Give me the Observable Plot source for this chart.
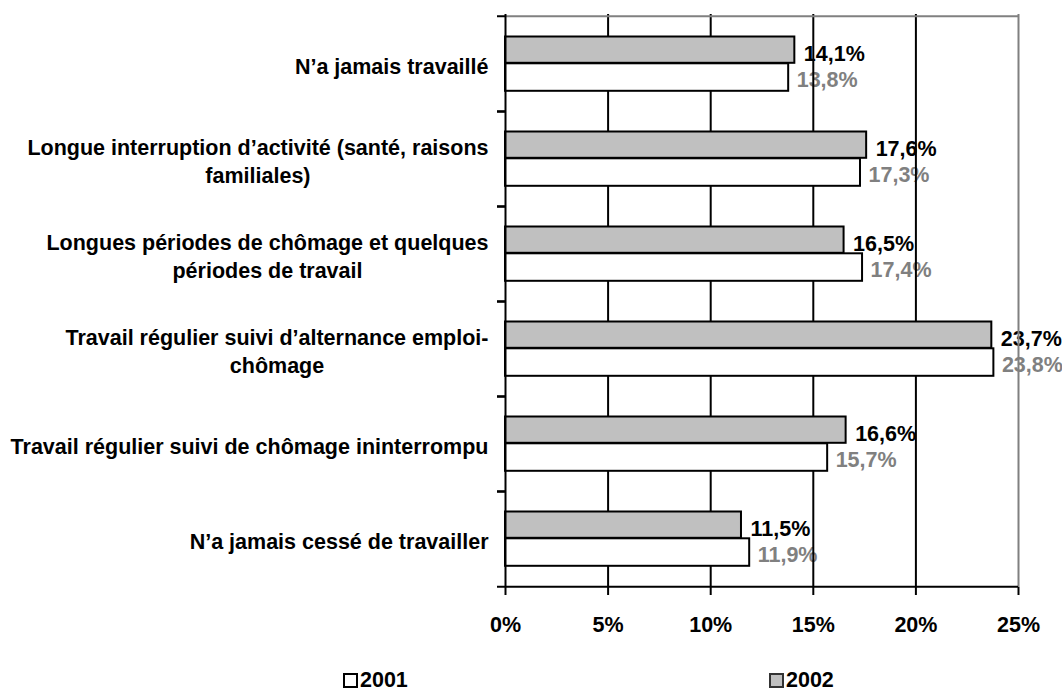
<!DOCTYPE html>
<html>
<head>
<meta charset="utf-8">
<script src="https://cdn.jsdelivr.net/npm/d3@7"></script>
<script src="https://cdn.jsdelivr.net/npm/@observablehq/plot@0.6"></script>
<style>
  html, body { margin: 0; padding: 0; background: #ffffff; }
  #chart { width: 1062px; font-family: "Liberation Sans", Arial, sans-serif; }
  .legend { position: relative; width: 1062px; height: 35px; font-family: "Liberation Sans", Arial, sans-serif; font-weight: bold; font-size: 21.5px; color: #000; }
  .legend .item { position: absolute; top: 9px; display: flex; align-items: center; line-height: 22px; }
  .legend .sw { display: inline-block; width: 11px; height: 11px; border: 2px solid #000; margin-right: 2px; box-sizing: content-box; }
</style>
</head>
<body>
<div id="chart"></div>
<div class="legend" id="legend"></div>
<script>
// ---- data ----
const categories = [
  "N\u2019a jamais travaillé",
  "Longue interruption d\u2019activité (santé, raisons\nfamiliales)",
  "Longues périodes de chômage et quelques\npériodes de travail",
  "Travail régulier suivi d\u2019alternance emploi-\nchômage",
  "Travail régulier suivi de chômage ininterrompu",
  "N\u2019a jamais cessé de travailler"
];
const values2002 = [14.1, 17.6, 16.5, 23.7, 16.6, 11.5];
const values2001 = [13.8, 17.3, 17.4, 23.8, 15.7, 11.9];
const xTicks = [0, 5, 10, 15, 20, 25];
const seriesNames = ["2001", "2002"];

// ---- build ----
const rows = categories.map((c, i) => ({cat: c, v2001: values2001[i], v2002: values2002[i]}));
const fmt = v => v.toFixed(1).replace(".", ",") + "%";

const W = 1062, H = 660, mT = 14, mB = 73, mL = 505, mR = 44;
const bw = (H - mT - mB) / categories.length;
const font = {fontSize: 21.5, fontWeight: "bold"};

const chart = Plot.plot({
  width: W, height: H,
  marginTop: mT, marginBottom: mB, marginLeft: mL, marginRight: mR,
  style: {fontFamily: "'Liberation Sans', Arial, sans-serif", background: "#ffffff", overflow: "visible"},
  x: {domain: [0, 25], axis: null},
  y: {domain: categories, padding: 0, axis: null},
  marks: [
    // value labels
    Plot.text(rows, {x: "v2002", y: "cat", text: d => fmt(d.v2002), textAnchor: "start", dx: 9, dy: -9.5, fill: "#000000", ...font}),
    Plot.text(rows, {x: "v2001", y: "cat", text: d => fmt(d.v2001), textAnchor: "start", dx: 8, dy: 16.5, fill: "#808080", ...font}),
    // gridlines
    Plot.ruleX(xTicks.filter(t => t > 0 && t < 25), {stroke: "#000000", strokeWidth: 2}),
    Plot.ruleX([25], {stroke: "#808080", strokeWidth: 2}),
    Plot.ruleY([categories[0]], {dy: -bw / 2, stroke: "#808080", strokeWidth: 2}),
    // bars
    Plot.barX(rows, {x: "v2002", y: "cat", fill: "#c0c0c0", stroke: "#000000", strokeWidth: 2, insetTop: 20.5, insetBottom: bw - 47.3}),
    Plot.barX(rows, {x: "v2001", y: "cat", fill: "#ffffff", stroke: "#000000", strokeWidth: 2, insetTop: 47.3, insetBottom: bw - 75.3}),
    // axes lines
    Plot.ruleX([0], {stroke: "#000000", strokeWidth: 2}),
    Plot.ruleY([categories[categories.length - 1]], {dy: bw / 2, stroke: "#000000", strokeWidth: 2}),
    Plot.axisY({tickSize: 8, tickFormat: () => "", label: null, dy: -bw / 2, stroke: "#000000", strokeWidth: 2}),
    Plot.axisY({tickSize: 8, tickFormat: () => "", label: null, dy: bw / 2, stroke: "#000000", strokeWidth: 2}),
    Plot.axisX({ticks: xTicks, tickFormat: d => d + "%", label: null, tickSize: 8, tickPadding: 21, stroke: "#000000", strokeWidth: 2, fill: "#000000", ...font}),
    // category labels
    Plot.text(categories, {x: () => 0, y: d => d, text: d => d, textAnchor: "end", dx: -17, dy: 1.5, lineHeight: 1.3, fill: "#000000", className: "ylab", ...font})
  ]
});
document.getElementById("chart").appendChild(chart);

// center multi-line category labels relative to each other (right-aligned block)
chart.querySelectorAll(".ylab text").forEach(t => {
  const spans = t.querySelectorAll("tspan");
  if (spans.length > 1) {
    let maxw = 0;
    spans.forEach(s => { maxw = Math.max(maxw, s.getComputedTextLength()); });
    t.setAttribute("text-anchor", "middle");
    spans.forEach(s => {
      const x0 = parseFloat(s.getAttribute("x") || "0");
      s.setAttribute("x", x0 - maxw / 2);
    });
  }
});

// legend
const legend = document.getElementById("legend");
const legendItems = [
  {name: seriesNames[0], fill: "#ffffff", left: 343},
  {name: seriesNames[1], fill: "#c0c0c0", left: 769}
];
legendItems.forEach(it => {
  const d = document.createElement("div");
  d.className = "item";
  d.style.left = it.left + "px";
  const sw = document.createElement("span");
  sw.className = "sw";
  sw.style.background = it.fill;
  sw.style.borderColor = it.fill === "#ffffff" ? "#000000" : "#333333";
  const tx = document.createElement("span");
  tx.textContent = it.name;
  d.appendChild(sw); d.appendChild(tx);
  legend.appendChild(d);
});
</script>
</body>
</html>
